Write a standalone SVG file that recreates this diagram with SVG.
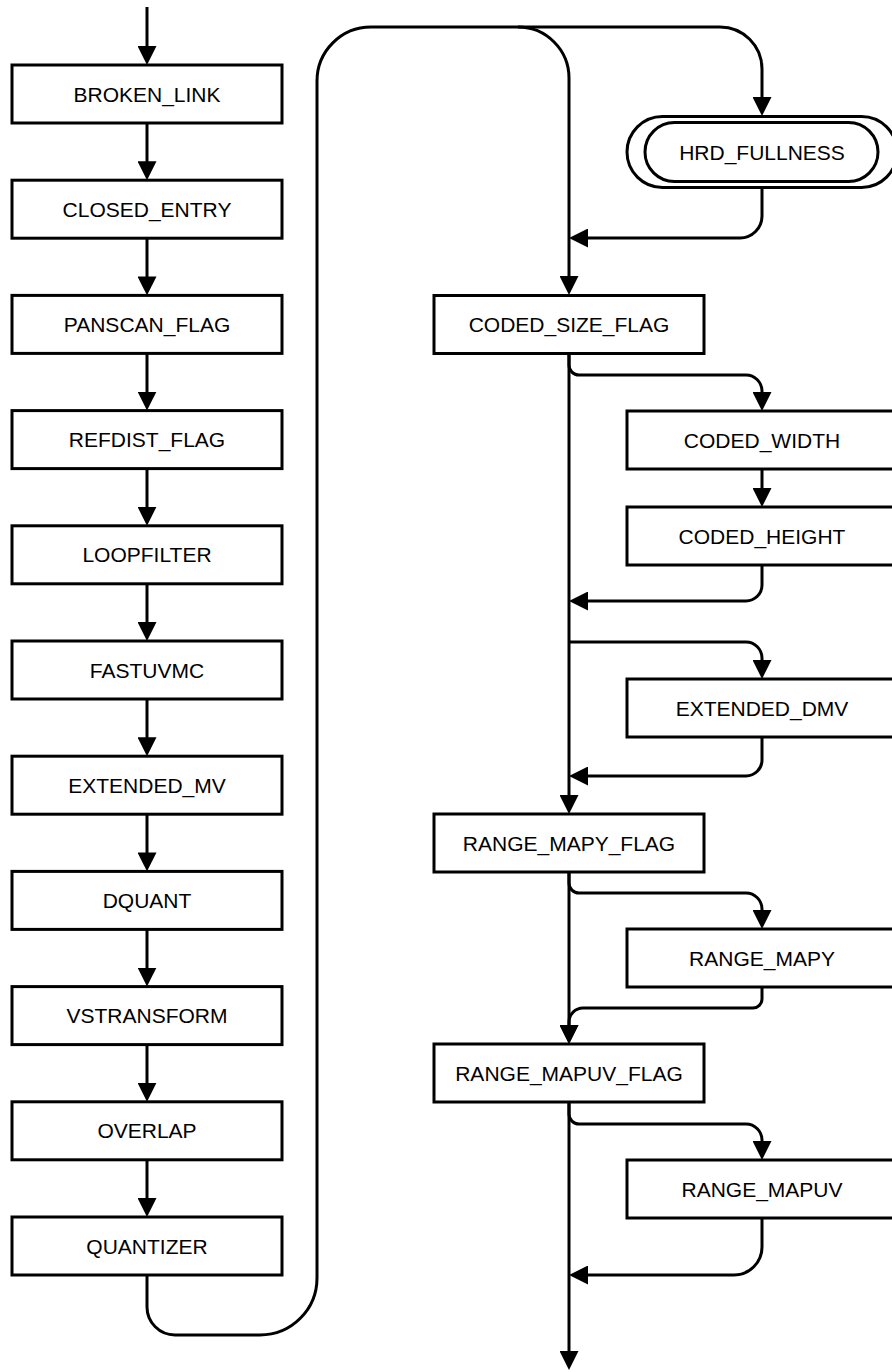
<svg xmlns="http://www.w3.org/2000/svg" width="892" height="1372" viewBox="0 0 892 1372">
  <style>
    .box { fill: #fff; stroke: #000; stroke-width: 3; }
    .lbl { font-family: "Liberation Sans", Arial, sans-serif; font-size: 21px; text-anchor: middle; fill: #000; }
    .edge { fill: none; stroke: #000; stroke-width: 3; marker-end: url(#arr); }
    .plain { fill: none; stroke: #000; stroke-width: 3; }
  </style>
  <defs>
    <marker id="arr" markerUnits="userSpaceOnUse" markerWidth="19" markerHeight="19" viewBox="0 0 19 19" refX="11" refY="9.5" orient="auto">
      <path d="M0,0 L19,9.5 L0,19 z" fill="#000"/>
    </marker>
  </defs>
  <rect width="892" height="1372" fill="#fff"/>

  <g id="connectors">
    <!-- left column chain -->
    <path class="edge" d="M147,7 V57"/>
    <path class="edge" d="M147,123 V172.2"/>
    <path class="edge" d="M147,238.2 V287.4"/>
    <path class="edge" d="M147,353.4 V402.6"/>
    <path class="edge" d="M147,468.6 V517.8"/>
    <path class="edge" d="M147,583.8 V633"/>
    <path class="edge" d="M147,699 V748.2"/>
    <path class="edge" d="M147,814.2 V863.4"/>
    <path class="edge" d="M147,929.4 V978.6"/>
    <path class="edge" d="M147,1044.6 V1093.8"/>
    <path class="edge" d="M147,1159.8 V1209"/>
    <!-- big loop from QUANTIZER over the top into CODED_SIZE_FLAG -->
    <path class="edge" d="M147,1275 V1307 A28,28 0 0 0 175,1335 H260 A57,57 0 0 0 317,1278 V81 A54,54 0 0 1 371,27 H518 A51,51 0 0 1 569,78 V287"/>
    <!-- optional HRD_FULLNESS -->
    <path class="edge" d="M518,27 H720 A42,42 0 0 1 762,69 V108"/>
    <path class="edge" d="M762,188 V216 A22,22 0 0 1 740,238 H577"/>
    <!-- right trunk -->
    <path class="edge" d="M569,354 V806"/>
    <path class="edge" d="M569,872 V1036"/>
    <path class="edge" d="M569,1102 V1362"/>
    <!-- coded size branch -->
    <path class="edge" d="M569,354 V365 A10,10 0 0 0 579,375 H746 A16,16 0 0 1 762,391 V403"/>
    <path class="edge" d="M762,469 V499"/>
    <path class="edge" d="M762,565 V585 A16,16 0 0 1 746,601 H577"/>
    <!-- extended dmv branch -->
    <path class="edge" d="M569,642 H746 A16,16 0 0 1 762,658 V671"/>
    <path class="edge" d="M762,737 V760 A16,16 0 0 1 746,776 H577"/>
    <!-- range map y branch -->
    <path class="edge" d="M569,872 V883 A10,10 0 0 0 579,893 H746 A16,16 0 0 1 762,909 V921"/>
    <path class="edge" d="M762,987 V999 A9,9 0 0 1 753,1008 H583 A14,14 0 0 0 569,1022 V1036"/>
    <!-- range map uv branch -->
    <path class="edge" d="M569,1102 V1114 A10,10 0 0 0 579,1124 H746 A16,16 0 0 1 762,1140 V1152"/>
    <path class="edge" d="M762,1218 V1247 A28,28 0 0 1 734,1275 H577"/>
  </g>

  <g id="broken_link"><rect class="box" x="12" y="65" width="270" height="58"/><text class="lbl" x="147" y="101.5">BROKEN_LINK</text></g>
  <g id="closed_entry"><rect class="box" x="12" y="180.2" width="270" height="58"/><text class="lbl" x="147" y="216.7">CLOSED_ENTRY</text></g>
  <g id="panscan_flag"><rect class="box" x="12" y="295.4" width="270" height="58"/><text class="lbl" x="147" y="331.9">PANSCAN_FLAG</text></g>
  <g id="refdist_flag"><rect class="box" x="12" y="410.6" width="270" height="58"/><text class="lbl" x="147" y="447.1">REFDIST_FLAG</text></g>
  <g id="loopfilter"><rect class="box" x="12" y="525.8" width="270" height="58"/><text class="lbl" x="147" y="562.3">LOOPFILTER</text></g>
  <g id="fastuvmc"><rect class="box" x="12" y="641" width="270" height="58"/><text class="lbl" x="147" y="677.5">FASTUVMC</text></g>
  <g id="extended_mv"><rect class="box" x="12" y="756.2" width="270" height="58"/><text class="lbl" x="147" y="792.7">EXTENDED_MV</text></g>
  <g id="dquant"><rect class="box" x="12" y="871.4" width="270" height="58"/><text class="lbl" x="147" y="907.9">DQUANT</text></g>
  <g id="vstransform"><rect class="box" x="12" y="986.6" width="270" height="58"/><text class="lbl" x="147" y="1023.1">VSTRANSFORM</text></g>
  <g id="overlap"><rect class="box" x="12" y="1101.8" width="270" height="58"/><text class="lbl" x="147" y="1138.3">OVERLAP</text></g>
  <g id="quantizer"><rect class="box" x="12" y="1217" width="270" height="58"/><text class="lbl" x="147" y="1253.5">QUANTIZER</text></g>

  <g id="hrd_fullness">
    <rect class="box" x="627" y="116.5" width="270" height="71" rx="35.5"/>
    <rect class="box" x="645" y="122.5" width="233" height="59" rx="29.5"/>
    <text class="lbl" x="762" y="159.5">HRD_FULLNESS</text>
  </g>
  <g id="coded_size_flag"><rect class="box" x="434" y="295.5" width="270" height="58"/><text class="lbl" x="569" y="332">CODED_SIZE_FLAG</text></g>
  <g id="coded_width"><rect class="box" x="627" y="411" width="270" height="58"/><text class="lbl" x="762" y="447.5">CODED_WIDTH</text></g>
  <g id="coded_height"><rect class="box" x="627" y="507" width="270" height="58"/><text class="lbl" x="762" y="543.5">CODED_HEIGHT</text></g>
  <g id="extended_dmv"><rect class="box" x="627" y="679" width="270" height="58"/><text class="lbl" x="762" y="715.5">EXTENDED_DMV</text></g>
  <g id="range_mapy_flag"><rect class="box" x="434" y="814" width="270" height="58"/><text class="lbl" x="569" y="850.5">RANGE_MAPY_FLAG</text></g>
  <g id="range_mapy"><rect class="box" x="627" y="929" width="270" height="58"/><text class="lbl" x="762" y="965.5">RANGE_MAPY</text></g>
  <g id="range_mapuv_flag"><rect class="box" x="434" y="1044" width="270" height="58"/><text class="lbl" x="569" y="1080.5">RANGE_MAPUV_FLAG</text></g>
  <g id="range_mapuv"><rect class="box" x="627" y="1160" width="270" height="58"/><text class="lbl" x="762" y="1196.5">RANGE_MAPUV</text></g>
</svg>
